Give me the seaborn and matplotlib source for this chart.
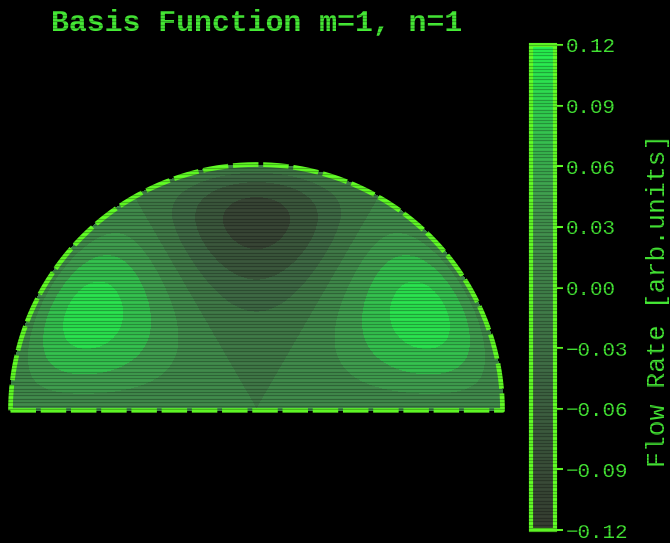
import numpy as np
import matplotlib
matplotlib.use("Agg")
import matplotlib.pyplot as plt
import seaborn as sns
from matplotlib.cm import ScalarMappable
from matplotlib.colors import Normalize
from matplotlib.ticker import FuncFormatter

# Chart content
title_text = "Basis Function m=1, n=1"
colorbar_label = "Flow Rate [arb.units]"
contour_levels = [-0.12, -0.09, -0.06, -0.03, 0.00, 0.03, 0.06, 0.09, 0.12]
colorbar_ticks = [-0.12, -0.09, -0.06, -0.03, 0.00, 0.03, 0.06, 0.09, 0.12]
peak_amplitude = 0.105      # largest |flow rate| of the mode
angular_order = 3           # sin(3*theta) -> zero lines at 60 and 120 degrees
radial_power = 3            # r^3 (1 - r^2) radial profile, zero on the wall

sns.set_theme(style="dark", rc={
    "figure.facecolor": "black",
    "axes.facecolor": "black",
    "savefig.facecolor": "black",
})
plt.rcParams["font.family"] = ["Liberation Mono", "DejaVu Sans Mono"]

GREEN_TEXT = "#46ec36"
GREEN_LINE = "#62ff26"

cmap = sns.blend_palette(["#363c31", "#3f6c45", "#42984f", "#26f650"], as_cmap=True)
norm = Normalize(vmin=contour_levels[0], vmax=contour_levels[-1])

W, H = 670, 543
fig = plt.figure(figsize=(W / 100, H / 100), dpi=100)

# half-disk axes: centre of the flat side and radius in pixels
cx, cy, R = 256.5, 410.5, 246.0
ax = fig.add_axes([(cx - R) / W, (H - cy) / H, 2 * R / W, R / H])
ax.set_xlim(-1, 1)
ax.set_ylim(0, 1)
ax.set_axis_off()

# basis function on a polar grid over the semicircular cross-section
r = np.linspace(0.0, 1.0, 241)
theta = np.linspace(0.0, np.pi, 361)
rr, tt = np.meshgrid(r, theta)
profile = rr ** radial_power * (1.0 - rr ** 2)
profile = profile / profile.max()
field = peak_amplitude * profile * np.sin(angular_order * tt)
cs = ax.contourf(rr * np.cos(tt), rr * np.sin(tt), field,
                 levels=contour_levels, cmap=cmap, norm=norm)
cs.set_edgecolor("face")
cs.set_linewidth(0.6)

# dashed wall outline: flat side then the arc
t = np.linspace(0.0, np.pi, 500)
bx = np.concatenate([[-1.0, 1.0], np.cos(t)])
by = np.concatenate([[0.0, 0.0], np.sin(t)])
ax.plot(bx, by, color=GREEN_LINE, lw=3.4, ls=(0, (5.4, 1.0)),
        clip_on=False, zorder=5)

# colorbar
cax = fig.add_axes([530.5 / W, (H - 530.0) / H, 24.5 / W, 485.0 / H])
cb = fig.colorbar(ScalarMappable(norm=norm, cmap=cmap), cax=cax,
                  ticks=colorbar_ticks)
cb.outline.set_edgecolor(GREEN_LINE)
cb.outline.set_linewidth(3.0)
cax.tick_params(axis="y", colors=GREEN_LINE, labelcolor=GREEN_TEXT,
                length=6, width=1.5, labelsize=15, pad=2, direction="out")
cax.yaxis.set_major_formatter(FuncFormatter(
    lambda v, pos: f"{abs(v):.2f}" if abs(v) < 1e-9 else f"{v:.2f}".replace("-", "\u2212")))

fig.text(658 / W, (H - 300) / H, colorbar_label, rotation=90,
         ha="center", va="center", color=GREEN_TEXT, fontsize=19)

fig.text(cx / W, (H - 31) / H, title_text, ha="center", va="baseline",
         color=GREEN_TEXT, fontsize=21.5, fontweight="bold")

# CRT scanlines over the whole frame
overlay = fig.add_axes([0, 0, 1, 1], facecolor="none", zorder=20)
overlay.set_xlim(0, W)
overlay.set_ylim(H, 0)
overlay.set_axis_off()
overlay.hlines(np.arange(1.0, H, 3.4), 0, W, color="black", alpha=0.28, lw=0.95)

fig.savefig("out.png", dpi=100, facecolor="black")
